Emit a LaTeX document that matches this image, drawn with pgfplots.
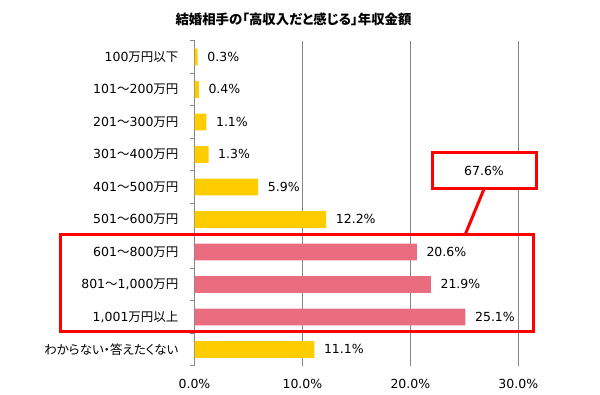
\documentclass[border=0pt]{standalone}
\usepackage{pgfplots}
\pgfplotsset{compat=1.18}
\usepackage{fontspec}
\setmainfont{DejaVu Sans}
\newfontfamily\jp[RawFeature=+palt]{Noto Sans CJK JP}
\newcommand{\J}[1]{{\jp #1}}
\definecolor{barY}{HTML}{FFCC00}
\definecolor{barP}{HTML}{E96D7E}
\definecolor{gridG}{HTML}{868686}
\begin{document}
\begin{tikzpicture}[x=1pt,y=1pt]
\path[use as bounding box] (0,0) rectangle (600,395);
\begin{axis}[
  at={(194.5pt,29.3pt)}, anchor=south west,
  scale only axis, width=323.8pt, height=325pt,
  xmin=0, xmax=30, ymin=-0.5, ymax=9.5, y dir=reverse,
  xbar, bar width=16.7pt, bar shift=0pt,
  axis line style={draw=none},
  /pgf/number format/assume math mode=true,
  xtick={0,10,20,30}, xmajorgrids,
  grid style={gridG, line width=0.8pt},
  xticklabel={\pgfmathprintnumber[fixed,fixed zerofill,precision=1]{\tick}\%},
  xticklabel style={font=\fontsize{12.5}{14}\selectfont, yshift=-10pt},
  ytick={0,...,9},
  yticklabels={
    {100\J{万円以下}},
    {101\J{～}200\J{万円}},
    {201\J{～}300\J{万円}},
    {301\J{～}400\J{万円}},
    {401\J{～}500\J{万円}},
    {501\J{～}600\J{万円}},
    {601\J{～}800\J{万円}},
    {801\J{～}1,000\J{万円}},
    {1,001\J{万円以上}},
    {\J{わからない・答えたくない}}},
  yticklabel style={font=\fontsize{12.5}{14}\selectfont, xshift=-12.5pt},
  minor ytick={-0.5,0.5,...,9.5},
  ytick pos=left, xtick pos=bottom, tick align=outside,
  major tick length=0pt, minor tick length=4pt,
  minor tick style={gridG, line width=0.8pt},
  point meta=x,
  nodes near coords={\pgfmathprintnumber[fixed,fixed zerofill,precision=1]{\pgfplotspointmeta}\%},
  nodes near coords style={anchor=west, inner sep=0pt, xshift=9.5pt, font=\fontsize{12.5}{14}\selectfont, black},
]
\addplot[fill=barY, draw=none, bar shift=0pt] coordinates {(0.3,0) (0.4,1) (1.1,2) (1.3,3) (5.9,4) (12.2,5) (11.1,9)};
\addplot[fill=barP, draw=none, bar shift=0pt] coordinates {(20.6,6) (21.9,7) (25.1,8)};
\end{axis}
\node[font={\fontsize{13.4}{15}\selectfont\jp\bfseries}] at (293.5,375.5) {結婚相手の「高収入だと感じる」年収金額};
\draw[red, line width=3pt] (60,63) rectangle (533,160);
\draw[red, line width=3pt] (484,206) -- (465,160);
\node[draw=red, line width=3pt, fill=white, minimum width=104pt, minimum height=36pt, inner sep=0pt, font=\fontsize{12.5}{14}\selectfont] at (484,224) {67.6\%};
\end{tikzpicture}
\end{document}
